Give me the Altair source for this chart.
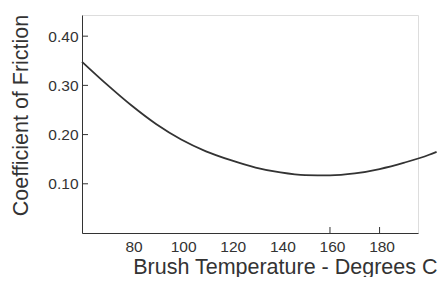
import altair as alt
import pandas as pd

temps = [60, 70, 80, 90, 100, 110, 120, 130, 140, 150, 160, 170, 180, 190, 200, 203]
friction = [0.348, 0.302, 0.259, 0.221, 0.190, 0.166, 0.148, 0.133, 0.123, 0.1175, 0.117, 0.121, 0.130, 0.143, 0.159, 0.165]
x_labels = [80, 100, 120, 140, 160, 180]
x_ticks = [160, 180]
y_labels = [0.1, 0.2, 0.3, 0.4]

W, H = 336, 218
ink = "#333333"
font = "Liberation Sans"

df = pd.DataFrame({"t": temps, "f": friction})
xt = pd.DataFrame({"t": x_ticks})
yt = pd.DataFrame({"f": y_labels})

xscale = alt.Scale(domain=[60, 195.5], nice=False, zero=False)
yscale = alt.Scale(domain=[0, 0.443], nice=False, zero=False)

line = alt.Chart(df).mark_line(color=ink, strokeWidth=1.8, interpolate="monotone").encode(
    x=alt.X("t:Q", scale=xscale, axis=alt.Axis(
        values=x_labels, format="d", tickSize=0, labelPadding=6, grid=False,
        domainColor=ink, labelColor=ink, labelFont=font, labelFontSize=15.5,
        labelOffset=2,
        title="Brush Temperature - Degrees C", titleFont=font, titleFontSize=21.5,
        titleFontWeight="normal", titleColor=ink, titleX=355, titleY=40,
        titleAlign="right", titleBaseline="alphabetic")),
    y=alt.Y("f:Q", scale=yscale, axis=alt.Axis(
        values=y_labels, format=".2f", tickSize=0, labelPadding=4, grid=False,
        domainColor=ink, labelColor=ink, labelFont=font, labelFontSize=15.5,
        title="Coefficient of Friction", titleFont=font, titleFontSize=21.5,
        titleFontWeight="normal", titleColor=ink, titleX=-54.5, titleY=100,
        titleAlign="center", titleBaseline="alphabetic", titleAngle=-90)),
)

xtick = alt.Chart(xt).mark_rule(color=ink, strokeWidth=1).encode(
    x=alt.X("t:Q", scale=xscale), y=alt.value(H), y2=alt.value(H - 6))
ytick = alt.Chart(yt).mark_rule(color=ink, strokeWidth=1).encode(
    y=alt.Y("f:Q", scale=yscale), x=alt.value(0), x2=alt.value(6))

chart = alt.layer(line, xtick, ytick).properties(
    width=W, height=H,
    autosize=alt.AutoSizeParams(type="none"),
    padding={"left": 74, "top": 7, "right": 20, "bottom": 44},
).configure_view(stroke=None).configure(background="white")

chart.save("out.html", embed_options={"renderer": "svg", "actions": False})
